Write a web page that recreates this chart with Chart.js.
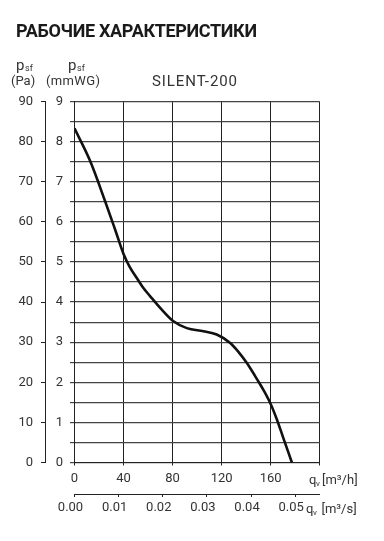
<!DOCTYPE html>
<html>
<head>
<meta charset="utf-8">
<script src="https://cdn.jsdelivr.net/npm/chart.js@4.4.0/dist/chart.umd.min.js"></script>
<style>
  html, body { margin: 0; padding: 0; background: #fff; }
  canvas { display: block; }
</style>
</head>
<body>
<canvas id="grafico" width="384" height="541"></canvas>
<script>
    // datos
    const titulo = 'РАБОЧИЕ ХАРАКТЕРИСТИКИ';
    const modelo = 'SILENT-200';
    const caudalM3h = [0, 12.7, 24.9, 33.1, 40, 45, 50.8, 56.2, 61.6, 71.2, 80.7, 91.6, 105.1, 116, 127, 133.7, 140.6, 150, 155, 160, 165, 170, 177.3];
    const presionPa = [83.3, 75.2, 65.2, 58.1, 52, 48.8, 46, 43.5, 41.5, 38.1, 35.2, 33.5, 32.7, 31.9, 29.8, 27.6, 24.8, 20.2, 17.6, 14.6, 10.8, 6.4, 0];

    const ticksPa = [0, 10, 20, 30, 40, 50, 60, 70, 80, 90];
    const ticksMm = [0, 0.5, 1, 1.5, 2, 2.5, 3, 3.5, 4, 4.5, 5, 5.5, 6, 6.5, 7, 7.5, 8, 8.5, 9];
    const ticksM3h = [0, 40, 80, 120, 160, 200];
    const ticksM3s = [0, 0.01, 0.02, 0.03, 0.04, 0.05];

    const fuente = 'Roboto';
    const gris = '#333';

    function fijarTicks(lista) {
        return s => { s.ticks = lista.map(v => ({ value: v })); };
    }

    function texto(ctx, s, x, y, size, opts = {}) {
        ctx.save();
        ctx.font = (opts.bold ? 'bold ' : '') + size + 'px ' + fuente;
        ctx.fillStyle = opts.color || gris;
        ctx.textAlign = 'left';
        ctx.textBaseline = 'alphabetic';
        if (opts.ancho) {
            const w = ctx.measureText(s).width;
            ctx.letterSpacing = ((opts.ancho - w) / Math.max(1, s.length - 1)) + 'px';
        }
        ctx.fillText(s, x, y);
        ctx.restore();
    }

    const rotulos = {
        id: 'rotulos',
        afterDraw(chart) {
            const ctx = chart.ctx;
            texto(ctx, titulo, 16, 37, 18, { bold: true, color: '#1a1a1a', ancho: 241 });
            // p_sf (Pa)
            texto(ctx, 'p', 16, 70, 15);
            texto(ctx, 'sf', 25, 71, 9);
            texto(ctx, '(Pa)', 11, 84.5, 13);
            // p_sf (mmWG)
            texto(ctx, 'p', 68, 70, 15);
            texto(ctx, 'sf', 77, 71, 9);
            texto(ctx, '(mmWG)', 46, 84.5, 13, { ancho: 54 });
            texto(ctx, modelo, 152, 86, 15, { ancho: 85 });
            // unidades del eje x
            texto(ctx, 'q', 309, 484, 13);
            texto(ctx, 'v', 316, 486, 8);
            texto(ctx, '[m³/h]', 322, 484, 13);
            texto(ctx, 'q', 306, 513, 13);
            texto(ctx, 'v', 313, 515, 8);
            texto(ctx, '[m³/s]', 321.5, 513, 13);
        }
    };

    const puntos = caudalM3h.map((q, i) => ({ x: q, y: presionPa[i] }));

    new Chart(document.getElementById('grafico').getContext('2d'), {
        type: 'line',
        data: {
            datasets: [{
                data: puntos,
                xAxisID: 'x', yAxisID: 'yPa',
                borderColor: '#111', borderWidth: 2.6,
                pointRadius: 0, cubicInterpolationMode: 'monotone', fill: false
            }]
        },
        options: {
            responsive: false, animation: false, devicePixelRatio: 1,
            layout: { padding: { top: 101.5, right: 64.3, left: 0, bottom: 0 } },
            plugins: { legend: { display: false }, tooltip: { enabled: false } },
            scales: {
                x: {
                    type: 'linear', position: 'bottom', weight: 0, min: 0, max: 200,
                    afterBuildTicks: fijarTicks(ticksM3h),
                    afterFit: s => { s.height = 31.5; },
                    ticks: { callback: v => v === 200 ? '' : v, font: { family: fuente, size: 13 }, color: gris, padding: 5, maxRotation: 0, autoSkip: false },
                    grid: { color: '#222', lineWidth: 1, tickLength: 3 },
                    border: { color: '#222', width: 1 }
                },
                xs: {
                    type: 'linear', position: 'bottom', weight: 1, min: 0, max: 200 / 3600,
                    afterBuildTicks: fijarTicks(ticksM3s),
                    afterFit: s => { s.height = 47; },
                    ticks: { callback: v => v.toFixed(2), font: { family: fuente, size: 13 }, color: gris, padding: 3, labelOffset: -4, maxRotation: 0, autoSkip: false },
                    grid: { drawOnChartArea: false, color: '#222', tickLength: 3 },
                    border: { color: '#222', width: 1 }
                },
                y: {
                    type: 'linear', position: 'left', weight: 0, min: 0, max: 9,
                    afterBuildTicks: fijarTicks(ticksMm),
                    afterFit: s => { s.width = 29.5; },
                    ticks: { callback: v => Number.isInteger(v) ? v : '', font: { family: fuente, size: 13 }, color: gris, padding: 7, autoSkip: false },
                    grid: { color: '#444', lineWidth: 1.2, tickLength: 4.5 },
                    border: { color: '#222', width: 1 }
                },
                yPa: {
                    type: 'linear', position: 'left', weight: 1, min: 0, max: 90,
                    afterBuildTicks: fijarTicks(ticksPa),
                    afterFit: s => { s.width = 45; },
                    ticks: { font: { family: fuente, size: 13 }, color: gris, padding: 8, autoSkip: false },
                    grid: { drawOnChartArea: false, color: '#222', tickLength: 4 },
                    border: { color: '#222', width: 1 }
                }
            }
        },
        plugins: [rotulos]
    });
</script>
</body>
</html>
